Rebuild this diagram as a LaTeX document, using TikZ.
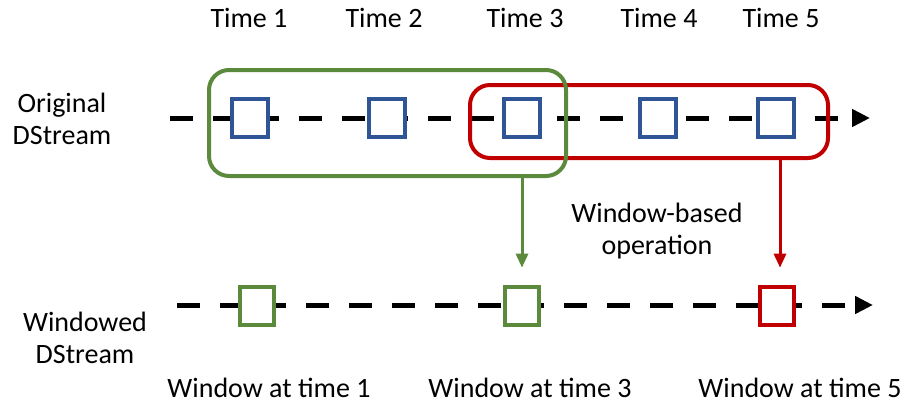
\documentclass[tikz,border=0pt]{standalone}
\usepackage{fontspec}
\setmainfont{Carlito}
\usetikzlibrary{arrows.meta}
\definecolor{winblue}{HTML}{2F5597}
\definecolor{wingreen}{HTML}{5B8A3C}
\definecolor{winred}{HTML}{C00000}

\begin{document}
\begin{tikzpicture}[x=0.75pt,y=-0.75pt,
  font=\fontsize{21}{24}\selectfont,
  timeline/.style={line width=3.75pt, dash pattern=on 17.25pt off 15pt,
    -{Triangle[length=13.5pt,width=12.75pt]}},
  slot/.style={draw=winblue, line width=3pt, fill=white,
    minimum width=27pt, minimum height=29pt, inner sep=0pt},
  wslot/.style={line width=3pt, fill=white,
    minimum width=26pt, minimum height=28.5pt, inner sep=0pt},
  window/.style={line width=3pt, rounded corners=15pt, inner sep=0pt},
  pick/.style={line width=2.25pt, -{Triangle[length=10.5pt,width=9pt]}},
  lbl/.style={align=center, inner sep=0pt}]

\useasboundingbox (0,0) rectangle (906,408);

% time labels
\node[lbl] (t1) at (249,18) {Time 1};
\node[lbl] (t2) at (384,18) {Time 2};
\node[lbl] (t3) at (525,18) {Time 3};
\node[lbl] (t4) at (659,18) {Time 4};
\node[lbl] (t5) at (781,18) {Time 5};

% stream labels
\node[lbl] (orig) at (62,119) {Original\\DStream};
\node[lbl] (wind) at (85,338) {Windowed\\DStream};
\node[lbl] (op) at (657,231) {Window-based\\operation};

% original stream
\coordinate (os) at (170,118);
\coordinate (oe) at (870,118);
\draw[timeline] (os) -- (oe);
\node[slot] (o1) at (250,118) {};
\node[slot] (o2) at (387,118) {};
\node[slot] (o3) at (522,118) {};
\node[slot] (o4) at (658,118) {};
\node[slot] (o5) at (776,118) {};

% windowed stream
\coordinate (ws) at (177,305);
\coordinate (we) at (873,305);
\draw[timeline] (ws) -- (we);
\node[wslot, draw=wingreen] (w1) at (257,306) {};
\node[wslot, draw=wingreen] (w3) at (522,306) {};
\node[wslot, draw=winred] (w5) at (777,306) {};

% windows over the original stream
\node[window, draw=winred, minimum width=268.5pt, minimum height=54.75pt]
  (redwin) at (649,121.5) {};
\node[window, draw=wingreen, minimum width=267.75pt, minimum height=79.5pt]
  (greenwin) at (387.5,123) {};

% window-based operation arrows
\draw[pick, wingreen, shorten >=13pt] (greenwin.south -| w3) -- (w3.north);
\draw[pick, winred, shorten >=13pt] ([xshift=2.25pt]redwin.south -| w5) -- ([xshift=2.25pt]w5.north);

% window labels
\node[lbl] (l1) at (269,388) {Window at time 1};
\node[lbl] (l3) at (530,388) {Window at time 3};
\node[lbl] (l5) at (800,388) {Window at time 5};
\end{tikzpicture}
\end{document}
